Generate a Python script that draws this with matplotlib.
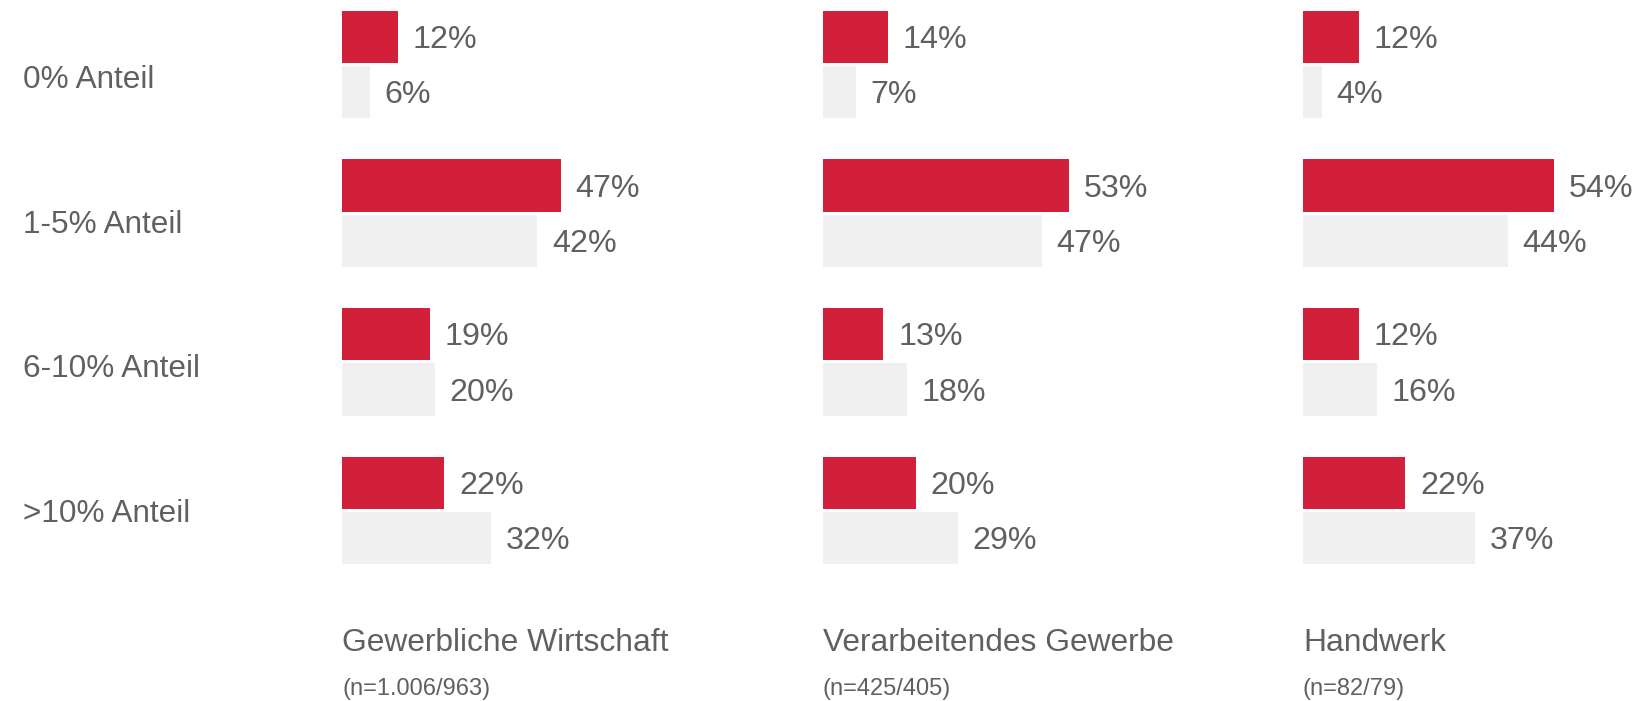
import matplotlib
matplotlib.use('Agg')
import matplotlib.pyplot as plt
import numpy as np

plt.rcParams['font.family'] = ['Liberation Sans', 'DejaVu Sans']

rows = ['0% Anteil', '1-5% Anteil', '6-10% Anteil', '>10% Anteil']
panels = ['Gewerbliche Wirtschaft', 'Verarbeitendes Gewerbe', 'Handwerk']
sample_sizes = ['(n=1.006/963)', '(n=425/405)', '(n=82/79)']

gewerbe_red = [12, 47, 19, 22]
gewerbe_grey = [6, 42, 20, 32]
verarb_red = [14, 53, 13, 20]
verarb_grey = [7, 47, 18, 29]
handwerk_red = [12, 54, 12, 22]
handwerk_grey = [4, 44, 16, 37]

red_series = [gewerbe_red, verarb_red, handwerk_red]
grey_series = [gewerbe_grey, verarb_grey, handwerk_grey]

RED = '#D21F3A'
GREY = '#F0F0F0'
TEXT = '#606060'

fig = plt.figure(figsize=(16.38, 7.01), dpi=100)

lefts = [342 / 1638, 823 / 1638, 1303 / 1638]
width = 60 * 4.65 / 1638
bottom = 1 - 566 / 701
height = (566 - 9) / 701

bar_h = 0.35
gap = 0.021
y = np.arange(len(rows))

for k in range(3):
    ax = fig.add_axes([lefts[k], bottom, width, height])
    y_red = y - (bar_h + gap) / 2
    y_grey = y + (bar_h + gap) / 2
    ax.barh(y_red, red_series[k], height=bar_h, color=RED)
    ax.barh(y_grey, grey_series[k], height=bar_h, color=GREY)
    # value labels next to the bars
    for yy, v in zip(y_red, red_series[k]):
        ax.annotate(f'{v}%', (v, yy), xytext=(10.5, -2.2), textcoords='offset points',
                    va='center', ha='left', fontsize=23.2, color=TEXT,
                    annotation_clip=False)
    for yy, v in zip(y_grey, grey_series[k]):
        ax.annotate(f'{v}%', (v, yy), xytext=(10.5, -2.2), textcoords='offset points',
                    va='center', ha='left', fontsize=23.2, color=TEXT,
                    annotation_clip=False)
    ax.set_xlim(0, 60)
    ax.set_ylim(len(rows) - 1 + bar_h + gap, -(bar_h + gap))
    ax.axis('off')

    fig.text(lefts[k], 1 - 643 / 701, panels[k], fontsize=22.9, color=TEXT,
             ha='left', va='center')
    fig.text(lefts[k], 1 - 689 / 701, sample_sizes[k], fontsize=17, color=TEXT,
             ha='left', va='center')

label_y = np.linspace(1 - 80 / 701, 1 - 514 / 701, len(rows))
for lab, ly in zip(rows, label_y):
    fig.text(23 / 1638, ly, lab, fontsize=22.7, color=TEXT, ha='left', va='center')

fig.savefig('out.png', dpi=100)
